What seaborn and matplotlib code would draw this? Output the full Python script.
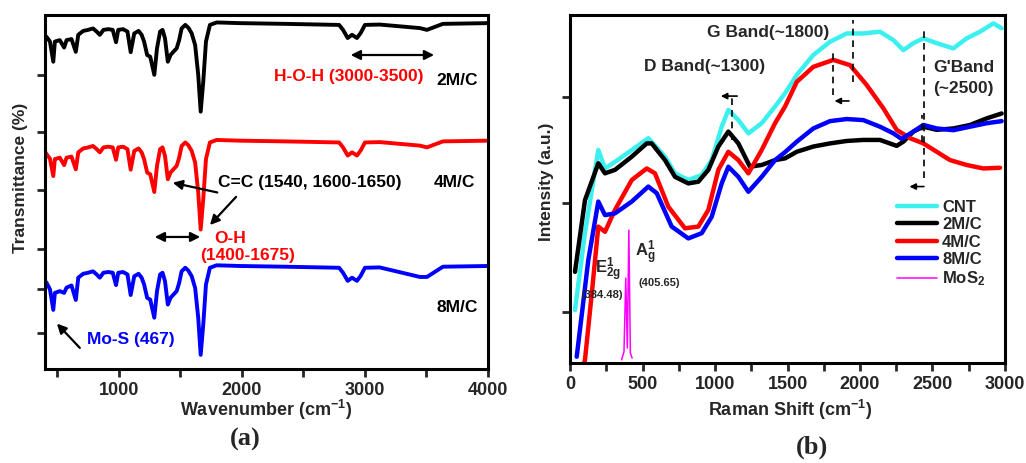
import numpy as np
import pandas as pd
import matplotlib

matplotlib.use('Agg')
import matplotlib.pyplot as plt
import seaborn as sns
from matplotlib.ticker import MultipleLocator, FixedLocator, NullFormatter

# ---------------- (a) FTIR spectra (offset stacked, a.u.) ----------------
ftir_wn = [400, 410, 440, 467, 480, 520, 555, 575, 615, 650, 670, 710, 750, 790, 820, 845, 875, 915,
           950, 977, 995, 1035, 1070, 1096, 1125, 1160, 1185, 1205, 1230, 1255, 1288, 1310, 1335,
           1355, 1375, 1398, 1420, 1443, 1470, 1490, 1510, 1540, 1565, 1592, 1620, 1645, 1665, 1686,
           1708, 1740, 1795, 1985, 2350, 2790, 2822, 2860, 2895, 2935, 2965, 3000, 3120, 3447, 3504,
           3634, 4000]
ftir_2mc = [93.8, 93.9, 92.5, 86.8, 92.5, 92.9, 90.8, 92.9, 93.2, 89.6, 94.4, 95.5, 95.8, 96.2, 95.3,
            94.4, 95.8, 96.0, 95.8, 92.3, 95.8, 96.0, 95.3, 89.5, 94.8, 95.5, 94.4, 92.5, 88.7, 88.2,
            83.1, 90.6, 95.3, 95.8, 93.4, 86.8, 88.7, 89.6, 90.6, 92.9, 96.2, 97.2, 96.4, 94.8, 91.5,
            83.1, 72.7, 81.2, 92.5, 97.2, 97.9, 97.7, 97.5, 97.2, 95.8, 93.5, 94.4, 93.5, 94.9, 97.2,
            97.3, 96.3, 95.8, 97.5, 97.7]
ftir_4mc = [61.5, 60.8, 59.4, 54.5, 59.3, 59.7, 57.6, 59.7, 60.0, 56.4, 61.2, 62.3, 62.6, 63.0, 62.1,
            61.2, 62.6, 62.8, 62.6, 59.1, 62.6, 62.8, 62.1, 56.3, 61.6, 62.3, 61.2, 59.3, 55.5, 55.0,
            50.0, 57.4, 62.1, 62.6, 60.2, 53.6, 55.5, 56.4, 57.4, 59.7, 63.0, 64.0, 63.2, 61.6, 58.3,
            49.9, 39.4, 48.0, 59.3, 64.0, 64.7, 64.5, 64.3, 64.0, 62.6, 60.3, 61.2, 60.3, 61.7, 64.0,
            64.1, 63.1, 62.6, 64.3, 64.5]
ftir_8mc = [23.5, 24.5, 22.5, 16.7, 21.5, 22.0, 21.5, 23.0, 23.6, 19.5, 25.8, 26.9, 27.2, 27.6, 26.7,
            25.8, 27.2, 27.4, 27.2, 23.7, 27.2, 27.4, 26.7, 20.9, 26.2, 26.9, 25.8, 23.9, 20.1, 19.6,
            14.5, 22.0, 26.7, 27.2, 24.8, 18.2, 20.1, 21.0, 22.0, 24.3, 27.6, 28.6, 27.8, 26.2, 22.9,
            14.5, 4.0, 12.6, 23.9, 28.6, 29.3, 29.1, 28.9, 28.6, 27.2, 24.9, 25.8, 24.9, 26.3, 28.6,
            28.7, 26.0, 26.0, 28.9, 29.1]

# ---------------- (b) Raman spectra ----------------
cnt_shift = [34, 103, 195, 241, 310, 426, 540, 655, 724, 816, 908, 977, 1046, 1092, 1161, 1230, 1322,
             1414, 1483, 1564, 1678, 1793, 1908, 2023, 2138, 2230, 2299, 2368, 2437, 2529, 2644,
             2736, 2828, 2920, 2977]
cnt_int = [15.2, 37.4, 61.2, 55.9, 57.8, 61.2, 64.6, 59.3, 54.5, 52.6, 54.0, 58.3, 67.9, 72.7, 69.8,
           66.0, 68.9, 73.7, 77.5, 82.8, 88.5, 92.3, 94.7, 94.7, 95.2, 92.8, 89.9, 91.9, 93.3, 91.9,
           90.4, 93.3, 95.2, 97.6, 96.2]

m2_shift = [34, 103, 195, 241, 310, 426, 529, 563, 655, 724, 816, 885, 954, 1023, 1092, 1161, 1241,
            1322, 1414, 1483, 1564, 1678, 1793, 1908, 2023, 2138, 2253, 2299, 2368, 2437, 2529,
            2644, 2759, 2874, 2977]
m2_int = [26.2, 46.8, 57.4, 54.5, 55.5, 59.3, 63.1, 63.1, 58.3, 53.5, 51.6, 52.1, 55.5, 62.2, 66.5,
          63.1, 56.4, 56.9, 58.3, 58.8, 60.7, 62.2, 63.1, 63.8, 64.1, 64.1, 62.4, 63.6, 66.5, 67.9,
          67.0, 67.4, 68.4, 70.3, 71.7]

m4_shift = [85, 103, 150, 195, 241, 310, 426, 529, 586, 678, 793, 885, 954, 1023, 1092, 1161, 1230,
            1322, 1414, 1483, 1564, 1678, 1816, 1931, 2046, 2161, 2253, 2345, 2437, 2529, 2621,
            2736, 2850, 2966]
m4_int = [-2.0, 0.9, 20.0, 39.2, 37.7, 44.0, 52.6, 55.9, 54.5, 44.9, 38.7, 39.2, 44.0, 55.5, 60.7,
          58.3, 54.5, 61.2, 68.9, 73.7, 80.8, 85.1, 87.1, 85.6, 79.9, 73.2, 67.0, 64.6, 63.1, 60.7,
          58.3, 56.9, 55.9, 56.1]

m8_shift = [46, 126, 195, 241, 310, 426, 540, 598, 701, 816, 908, 977, 1046, 1092, 1161, 1230, 1322,
            1414, 1483, 1564, 1678, 1793, 1908, 2023, 2138, 2230, 2287, 2368, 2437, 2529, 2644,
            2759, 2874, 2977]
m8_int = [1.8, 29.6, 46.4, 42.5, 43.0, 46.4, 50.7, 48.8, 39.2, 35.8, 37.3, 42.0, 51.6, 56.4, 53.5,
          49.2, 53.5, 58.3, 60.6, 63.6, 67.4, 69.5, 70.1, 69.8, 67.9, 66.0, 64.4, 66.5, 68.4, 67.4,
          66.9, 67.9, 68.9, 69.5]

mos2_shift = [355, 372, 384.5, 395, 405.7, 416, 428]
mos2_int = [0.9, 3.2, 24.4, 4.3, 38.2, 2.9, 1.4]

# ---------------- style ----------------
sns.set_style('ticks')
plt.rcParams['font.family'] = ['Liberation Sans', 'DejaVu Sans']
plt.rcParams['font.weight'] = 'bold'
plt.rcParams['axes.labelweight'] = 'bold'
plt.rcParams['mathtext.fontset'] = 'custom'
plt.rcParams['mathtext.rm'] = 'Liberation Sans:bold'
plt.rcParams['mathtext.it'] = 'Liberation Sans:bold'
plt.rcParams['mathtext.bf'] = 'Liberation Sans:bold'
plt.rcParams['mathtext.sf'] = 'Liberation Sans:bold'

fig = plt.figure(figsize=(10.26, 4.63), dpi=100)
ax_a = fig.add_axes([0.0439, 0.2030, 0.4317, 0.7646])
ax_b = fig.add_axes([0.5556, 0.2160, 0.4239, 0.7516])


def style_axes(ax):
    for sp in ax.spines.values():
        sp.set_linewidth(2.2)
        sp.set_color('black')
    ax.tick_params(which='both', direction='out', width=2, length=6, labelsize=13,
                   top=False, right=False)
    ax.yaxis.set_major_formatter(NullFormatter())
    for lab in ax.get_xticklabels():
        lab.set_fontweight('bold')


# ---------------- (a) ----------------
sns.lineplot(x=ftir_wn, y=ftir_2mc, ax=ax_a, color='black', lw=2.8)
sns.lineplot(x=ftir_wn, y=ftir_4mc, ax=ax_a, color='#FF0000', lw=2.8)
sns.lineplot(x=ftir_wn, y=ftir_8mc, ax=ax_a, color='#0000FF', lw=2.8)
ax_a.set_xlim(400, 4000)
ax_a.set_ylim(0, 100)
ax_a.xaxis.set_major_locator(MultipleLocator(1000))
ax_a.xaxis.set_minor_locator(MultipleLocator(500))
ax_a.yaxis.set_major_locator(FixedLocator([83.1, 66.9, 50.6, 33.9, 22.6, 10.2]))
style_axes(ax_a)
ax_a.set_xlabel('Wavenumber (cm$^{-1}$)', fontsize=13, fontweight='bold')
ax_a.set_ylabel('Transmittance (%)', fontsize=12.5, fontweight='bold')
ax_a.yaxis.set_label_coords(-0.038, 0.54)
ax_a.xaxis.set_label_coords(0.5, -0.082)

txt = dict(fontsize=12.5, fontweight='bold', ha='center', va='center')
ax_a.text(2870, 82.5, 'H-O-H (3000-3500)', color='#FF0000', **txt)
ax_a.annotate('', xy=(3585, 88.7), xytext=(2862, 88.7),
              arrowprops=dict(arrowstyle='<|-|>', color='black', lw=1.6, mutation_scale=14))
ax_a.text(3748, 81.6, '2M/C', color='black', **txt)
ax_a.text(3724, 52.8, '4M/C', color='black', **txt)
ax_a.text(3748, 17.5, '8M/C', color='black', **txt)
ax_a.text(2553, 52.8, 'C=C (1540, 1600-1650)', color='black', **txt)
ax_a.annotate('', xy=(1416, 52.8), xytext=(1822, 49.7),
              arrowprops=dict(arrowstyle='-|>', color='black', lw=1.6, mutation_scale=14))
ax_a.annotate('', xy=(1725, 40.1), xytext=(1968, 49.2),
              arrowprops=dict(arrowstyle='-|>', color='black', lw=1.6, mutation_scale=14))
ax_a.annotate('', xy=(1269, 37.3), xytext=(1684, 37.3),
              arrowprops=dict(arrowstyle='<|-|>', color='black', lw=1.6, mutation_scale=14))
ax_a.text(1903, 37.0, 'O-H', color='#FF0000', **txt)
ax_a.text(2050, 32.2, '(1400-1675)', color='#FF0000', **txt)
ax_a.text(1099, 8.2, 'Mo-S (467)', color='#0000FF', **txt)
ax_a.annotate('', xy=(481, 13.4), xytext=(698, 5.4),
              arrowprops=dict(arrowstyle='-|>', color='black', lw=1.6, mutation_scale=14))

# ---------------- (b) ----------------
sns.lineplot(x=cnt_shift, y=cnt_int, ax=ax_b, color='#3DF0F0', lw=3.2, label='CNT')
sns.lineplot(x=m2_shift, y=m2_int, ax=ax_b, color='black', lw=3.2, label='2M/C')
sns.lineplot(x=m4_shift, y=m4_int, ax=ax_b, color='#FF0000', lw=3.2, label='4M/C')
sns.lineplot(x=m8_shift, y=m8_int, ax=ax_b, color='#0000FF', lw=3.2, label='8M/C')
sns.lineplot(x=mos2_shift, y=mos2_int, ax=ax_b, color='#FF00FF', lw=1.1, label='MoS$_2$')
ax_b.set_xlim(0, 3000)
ax_b.set_ylim(0, 100)
ax_b.xaxis.set_major_locator(MultipleLocator(500))
ax_b.xaxis.set_minor_locator(MultipleLocator(250))
ax_b.yaxis.set_major_locator(FixedLocator([76.4, 46.0, 14.7]))
style_axes(ax_b)
ax_b.set_xlabel('Raman Shift (cm$^{-1}$)', fontsize=13, fontweight='bold')
ax_b.set_ylabel('Intensity (a.u.)', fontsize=12.5, fontweight='bold')
ax_b.yaxis.set_label_coords(-0.037, 0.52)
ax_b.xaxis.set_label_coords(0.506, -0.1)

ax_b.legend(loc='upper left', bbox_to_anchor=(0.752, 0.469), frameon=False,
            handlelength=2.4, handletextpad=0.3, labelspacing=0.15, borderpad=0,
            borderaxespad=0, prop={'weight': 'bold', 'size': 12})

# band markers: dashed guides and shift arrows
dashes = [(1115, 64.1, 76.4), (1954, 80.7, 98.6), (1816, 77.0, 89.5), (2441, 53.2, 96.2),
          (2426, 63.6, 71.3)]
for xd, y0, y1 in dashes:
    ax_b.vlines(xd, y0, y1, colors='black', linestyles=(0, (4, 3)), lw=1.2)
shift_arrows = [(1172, 1021, 76.7), (1943, 1805, 75.3), (2460, 2322, 50.7)]
for x0, x1, ya in shift_arrows:
    ax_b.annotate('', xy=(x1, ya), xytext=(x0, ya),
                  arrowprops=dict(arrowstyle='-|>', color='black', lw=1.2, mutation_scale=9))

ax_b.text(1366, 95.1, 'G Band(~1800)', **txt)
ax_b.text(931, 85.1, 'D Band(~1300)', **txt)
ax_b.text(2504, 84.8, "G'Band", fontsize=12.5, fontweight='bold', ha='left', va='center')
ax_b.text(2504, 79.0, '(~2500)', fontsize=12.5, fontweight='bold', ha='left', va='center')
ax_b.text(262, 26.7, '$\\mathregular{E^1_{2g}}$', fontsize=12, ha='center', va='center')
ax_b.text(221, 19.5, '(384.48)', fontsize=8, fontweight='bold', ha='center', va='center')
ax_b.text(517, 31.6, '$\\mathregular{A^1_g}$', fontsize=12, ha='center', va='center')
ax_b.text(614, 23.0, '(405.65)', fontsize=8, fontweight='bold', ha='center', va='center')

fig.text(0.2388, 0.05, '(a)', family='Liberation Serif', fontsize=19, fontweight='bold',
         ha='center', va='center')
fig.text(0.7914, 0.035, '(b)', family='Liberation Serif', fontsize=19, fontweight='bold',
         ha='center', va='center')

fig.savefig('out.png', dpi=100)
plt.close(fig)
